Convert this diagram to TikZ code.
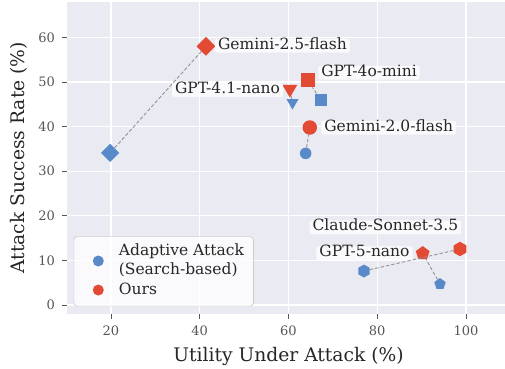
\documentclass[tikz,border=0pt]{standalone}
\usepackage{fontspec}
\setmainfont{DejaVu Serif}
\usetikzlibrary{shapes.geometric}
\definecolor{bgc}{RGB}{234,234,242}
\definecolor{ours}{RGB}{226,74,51}
\definecolor{adapt}{RGB}{88,137,200}
\definecolor{tickc}{RGB}{85,85,85}
\definecolor{labc}{RGB}{38,38,38}
\tikzset{
  rd/.style={inner sep=0,fill=ours},
  bl/.style={inner sep=0,fill=adapt},
  conn/.style={draw=gray!85,line width=0.9pt,dash pattern=on 3.5pt off 2pt},
  lbl/.style={fill=white,fill opacity=0.8,text opacity=1,rounded corners=2pt,
    inner sep=3pt,text height=0.75em,text depth=0.02em,
    font=\fontsize{15.5}{18.6}\selectfont,text=labc},
  tck/.style={inner sep=0,text=tickc,font=\fontsize{13}{15.6}\selectfont},
  tri/.style={regular polygon,regular polygon sides=3,shape border rotate=180},
  pent/.style={regular polygon,regular polygon sides=5},
  hexa/.style={regular polygon,regular polygon sides=6,rotate=30}
}
\begin{document}
\begin{tikzpicture}[x=4.4375pt,y=4.46pt]
  \useasboundingbox (-5.01,-14.13) rectangle (108.79,68.39);
  \fill[bgc] (10.1,-2) rectangle (108.79,67.9);
  \foreach \x in {20,40,...,100}{
    \draw[white,line width=1.3pt] (\x,-2) -- (\x,67.9);
    \draw[tickc,line width=0.8pt] (\x,-2) -- ++(0,-5pt);
    \node[tck,anchor=north,yshift=-12pt] (xt\x) at (\x,-2) {\x};}
  \foreach \y in {0,10,...,60}{
    \draw[white,line width=1.3pt] (10.1,\y) -- (108.79,\y);
    \draw[tickc,line width=0.8pt] (10.1,\y) -- ++(-5pt,0);
    \node[tck,anchor=east,xshift=-12pt] (yt\y) at (10.1,\y) {\y};}
  \node[font=\fontsize{18.7}{22}\selectfont,text=labc,anchor=base] (xlab) at (60,-12.7) {Utility Under Attack (\%)};
  \node[font=\fontsize{18.7}{22}\selectfont,text=labc,rotate=90] (ylab) at (-0.73,33) {Attack Success Rate (\%)};
  \node[bl,diamond,minimum size=18.5pt] (b25) at (19.8,34.1) {};
  \node[bl,minimum size=12.5pt] (b4o) at (67.3,46.0) {};
  \node[bl,tri,minimum size=14pt] (b41) at (60.9,45.4) {};
  \node[bl,circle,minimum size=11.5pt] (b20) at (63.87,34.0) {};
  \node[bl,hexa,minimum size=13pt] (bcl) at (77.0,7.62) {};
  \node[bl,pent,minimum size=12pt] (b5n) at (94.14,4.71) {};
  \node[rd,diamond,minimum size=19pt] (r25) at (41.4,58.0) {};
  \node[rd,minimum size=14pt] (r4o) at (64.3,50.4) {};
  \node[rd,tri,minimum size=17pt] (r41) at (60.3,48.4) {};
  \node[rd,circle,minimum size=14.5pt] (r20) at (64.8,39.8) {};
  \node[rd,hexa,minimum size=14.5pt] (rcl) at (98.65,12.56) {};
  \node[rd,pent,minimum size=14.5pt] (r5n) at (90.24,11.59) {};
  \draw[conn] (b25) -- (r25);
  \draw[conn] (b4o) -- (r4o);
  \draw[conn] (b41) -- (r41);
  \draw[conn] (b20) -- (r20);
  \draw[conn] (bcl) -- (rcl);
  \draw[conn] (b5n) -- (r5n);
  \node[lbl] (lg25) at (58.65,58.14) {Gemini-2.5-flash};
  \node[lbl] (lg4o) at (78.14,52.09) {GPT-4o-mini};
  \node[lbl] (lg41) at (46.25,48.21) {GPT-4.1-nano};
  \node[lbl] (lg20) at (82.58,39.75) {Gemini-2.0-flash};
  \node[lbl] (lgcl) at (81.82,17.42) {Claude-Sonnet-3.5};
  \node[lbl] (lg5n) at (77.13,11.59) {GPT-5-nano};
  \draw[draw=gray!55,fill=white,fill opacity=0.8,rounded corners=3pt] (11.66,-0.22) rectangle (52.07,15.31);
  \node[bl,circle,minimum size=11pt] (legb) at (17.14,9.87) {};
  \node[rd,circle,minimum size=11pt] (legr) at (17.14,3.36) {};
  \node[anchor=west,align=left,inner sep=0,text=labc,font=\fontsize{15.5}{18.6}\selectfont] (legbt) at (21.74,10.09) {Adaptive Attack\\(Search-based)};
  \node[anchor=west,inner sep=0,text=labc,font=\fontsize{15.5}{18.6}\selectfont] (legrt) at (21.74,3.52) {Ours};
\end{tikzpicture}
\end{document}
